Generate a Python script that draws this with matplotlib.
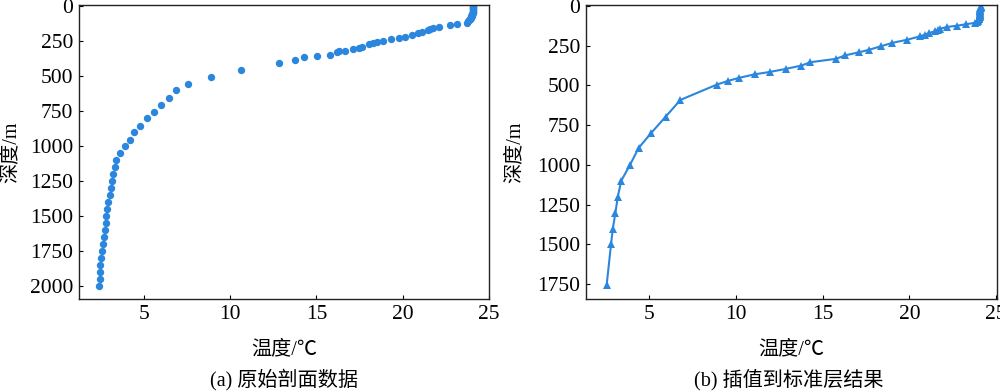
import matplotlib
matplotlib.use("Agg")
import matplotlib.pyplot as plt

plt.rcParams['font.family'] = ['Liberation Serif', 'Noto Sans CJK SC', 'DejaVu Sans']
plt.rcParams['axes.unicode_minus'] = False

COLOR = '#2b86dd'

# (a) raw profile data
depth_a = [0, 5, 10, 15, 20, 25, 30, 35, 40, 45, 50, 55, 60, 65, 70, 75, 80, 85, 90, 95, 100, 105,
           119, 131, 135, 148, 160, 167, 174, 186, 196, 205, 219, 229, 238, 250, 255, 265, 274,
           291, 298, 307, 319, 324, 331, 348, 355, 367, 384, 408, 455, 510, 555, 603, 656, 706,
           756, 803, 856, 903, 958, 1004, 1054, 1104, 1151, 1201, 1251, 1299, 1352, 1399, 1454,
           1502, 1554, 1602, 1654, 1702, 1750, 1802, 1852, 1902, 1950, 2000]
temp_a = [24.08, 24.08, 24.08, 24.08, 24.07, 24.07, 24.07, 24.06, 24.06, 24.05, 24.05, 24.04,
          24.03, 24.02, 24.00, 23.98, 23.96, 23.94, 23.92, 23.88, 23.84, 23.80,
          23.74, 23.16, 22.72, 22.11, 21.76, 21.61, 21.44, 21.09, 20.89, 20.55, 20.12, 19.79,
          19.31, 18.88, 18.53, 18.30, 18.03, 17.64, 17.49, 17.14, 16.66, 16.29, 16.20, 15.77,
          15.02, 14.29, 13.76, 12.86, 10.64, 8.92, 7.59, 6.87, 6.45, 6.02, 5.62, 5.19, 4.77,
          4.42, 4.23, 3.94, 3.61, 3.40, 3.36, 3.22, 3.19, 3.09, 3.03, 2.93, 2.88, 2.84, 2.80,
          2.76, 2.70, 2.66, 2.61, 2.55, 2.49, 2.45, 2.45, 2.41]

# (b) interpolated to standard levels
depth_b = [0, 5, 10, 15, 20, 25, 30, 35, 40, 45, 50, 55, 60, 65, 70, 75, 80, 85, 90, 95, 100,
           106, 115, 124, 132, 143, 151, 159, 170, 180, 191, 212, 233, 254, 275, 291, 311, 333,
           354, 375, 396, 415, 430, 452, 472, 495, 591, 696, 797, 893, 998, 1099, 1199, 1302,
           1403, 1499, 1752]
temp_b = [24.10, 24.10, 24.10, 24.09, 24.09, 24.09, 24.08, 24.08, 24.08, 24.07, 24.07, 24.06,
          24.06, 24.05, 24.04, 24.03, 24.02, 24.00, 23.98, 23.95, 23.90,
          23.79, 23.27, 22.77, 22.19, 21.77, 21.62, 21.48, 21.14, 20.92, 20.62, 19.89, 18.99,
          18.35, 17.70, 17.12, 16.30, 15.76, 14.29, 13.78, 12.88, 11.97, 11.09, 10.20, 9.53,
          8.90, 6.81, 5.96, 5.14, 4.40, 3.91, 3.40, 3.20, 3.06, 2.91, 2.81, 2.56]

xticks = [5, 10, 15, 20, 25]
yticks_a = [0, 250, 500, 750, 1000, 1250, 1500, 1750, 2000]
yticks_b = [0, 250, 500, 750, 1000, 1250, 1500, 1750]

fig = plt.figure(figsize=(10, 3.91), dpi=100)
ax1 = fig.add_axes([0.079, 0.2353, 0.410, 0.752])
ax2 = fig.add_axes([0.5857, 0.2353, 0.411, 0.752])

ax1.plot(temp_a, depth_a, 'o', color=COLOR, markersize=5.3, markeredgewidth=0)
ax2.plot(temp_b, depth_b, '-^', color=COLOR, markersize=5.3, linewidth=1.5, markeredgewidth=0)

ax1.set_xlim(1.25, 25.0)
ax1.set_ylim(2096, -7)
ax2.set_xlim(1.35, 25.03)
ax2.set_ylim(1843, -6)

for ax, yt, lx in ((ax1, yticks_a, -0.142), (ax2, yticks_b, -0.150)):
    ax.set_xticks(xticks)
    ax.set_yticks(yt)
    ax.tick_params(direction='in', length=3, width=0.8, labelsize=15.5, pad=4,
                   top=False, right=False)
    for s in ax.spines.values():
        s.set_linewidth(1.0)
        s.set_color('#222222')
    ax.set_xlabel('温度/℃', fontsize=14.5, labelpad=12)
    ax.set_ylabel('深度/m', fontsize=14.5)
    ax.yaxis.set_label_coords(lx, 0.5)

fig.text(0.284, 0.028, '(a) 原始剖面数据', ha='center', va='center', fontsize=14.5)
fig.text(0.789, 0.028, '(b) 插值到标准层结果', ha='center', va='center', fontsize=14.5)

fig.savefig('out.png', dpi=100)
